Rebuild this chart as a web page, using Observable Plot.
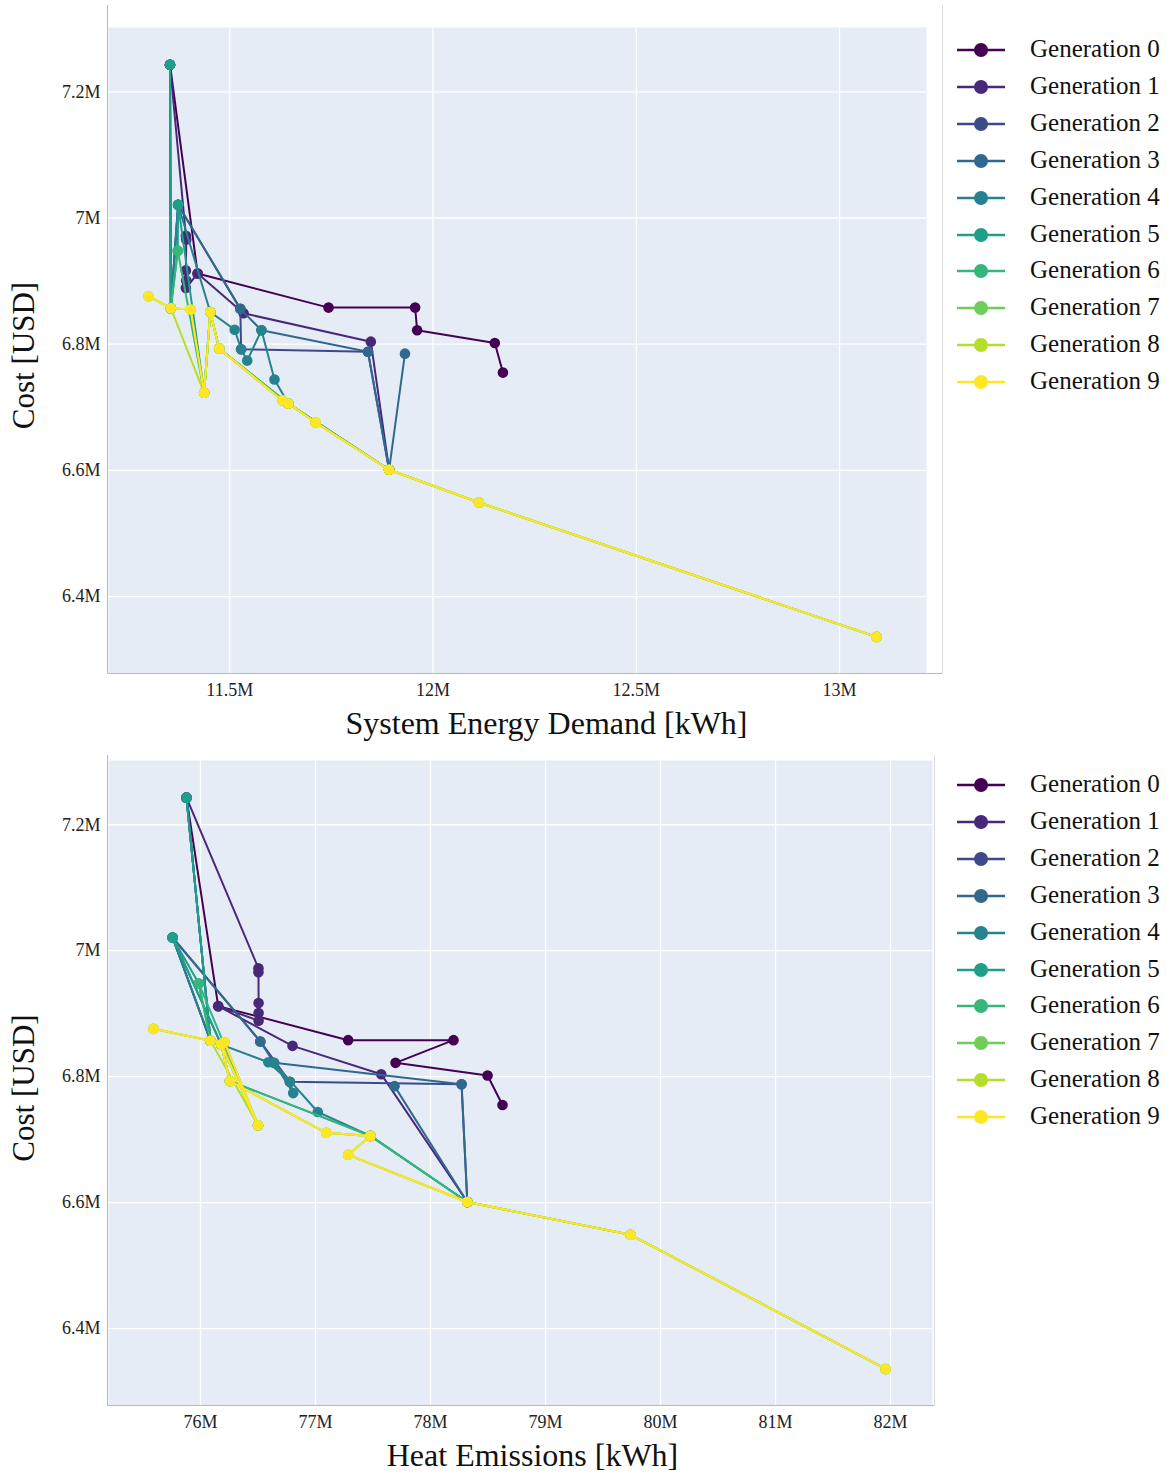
<!DOCTYPE html>
<html>
<head>
<meta charset="utf-8">
<script src="https://cdn.jsdelivr.net/npm/d3@7"></script>
<script src="https://cdn.jsdelivr.net/npm/@observablehq/plot@0.6"></script>
<style>
  body { margin: 0; background: #fff; font-family: "Liberation Serif", "DejaVu Serif", serif; color: #222; }
  .panel { position: relative; width: 1167px; }
  .panel svg.plot { display: block; }
  .legend { position: absolute; left: 957px; top: 0; }
  .item { position: absolute; left: 0; width: 210px; height: 0; }
  .item svg { position: absolute; left: 0; top: -10px; }
  .item span { position: absolute; left: 73px; top: -15px; font-size: 25px; line-height: 28px; white-space: nowrap; color: #111; }
</style>
</head>
<body>
<div id="chart"></div>
<script>
// ---- Data (values in millions) ----
const pointNames    = ["T","A","B","G1a","G1b","G1c","G1d","G1e","D0","Y1","Y2","Y3","Y4","Y5","Y6","Y7","Y8","Y9","Y10","Y11","Y12","G0a","G0b","G0c","G0d","G0e","G1g","G1f","G3a","G4a","G4b","G4c","G4d","G4e","H","K"];
const energyDemand  = [11.353,11.373,11.372,11.392,11.393,11.392,11.393,11.392,11.421,11.300,11.355,11.404,11.452,11.474,11.437,11.629,11.644,11.711,11.892,12.113,13.091,11.743,11.956,11.961,12.152,12.172,11.534,11.847,11.526,11.512,11.528,11.543,11.578,11.610,11.840,11.931];
const heatEmissions = [75.878,75.757,75.985,76.504,76.504,76.505,76.505,76.505,76.154,75.591,76.087,76.209,76.180,76.255,76.500,77.093,77.478,77.284,78.320,79.740,81.957,77.284,78.200,77.696,78.496,78.626,76.800,77.571,76.520,76.590,76.777,76.806,76.640,77.020,78.270,77.687];
const cost          = [7.243,7.021,6.948,6.972,6.966,6.917,6.901,6.889,6.912,6.876,6.857,6.855,6.851,6.793,6.723,6.711,6.706,6.676,6.601,6.549,6.336,6.858,6.858,6.822,6.802,6.755,6.849,6.804,6.856,6.823,6.792,6.774,6.822,6.744,6.788,6.785];

const generationNames = ["Generation 0","Generation 1","Generation 2","Generation 3","Generation 4","Generation 5","Generation 6","Generation 7","Generation 8","Generation 9"];
const generationMembers = [
  ["T","D0","G0a","G0b","G0c","G0d","G0e"],
  ["T","G1a","G1b","G1c","G1d","G1e","D0","G1g","G1f","Y10"],
  ["T","Y2","A","G3a","G4b","H","Y10"],
  ["T","Y2","A","G3a","G4d","H","Y10","K"],
  ["T","Y2","A","Y4","G4a","G4b","G4c","G4d","G4e","Y8","Y10"],
  ["T","Y2","B","A","Y6","Y4","Y5","Y8","Y10"],
  ["Y2","B","Y6","Y4","Y5","Y8","Y10","Y11","Y12"],
  ["Y1","Y2","Y3","Y6","Y4","Y5","Y7","Y8","Y9","Y10","Y11","Y12"],
  ["Y1","Y2","Y6","Y4","Y5","Y7","Y8","Y9","Y10","Y11","Y12"],
  ["Y1","Y2","Y3","Y6","Y4","Y5","Y7","Y8","Y9","Y10","Y11","Y12"]
];
const generationColors = ["#440154","#482878","#3e4989","#31688e","#26828e","#1f9e89","#35b779","#6ece58","#b5de2b","#fde725"];

const costTicks = [6.4, 6.6, 6.8, 7.0, 7.2];
const energyTicks = [11.5, 12, 12.5, 13];
const heatTicks = [76, 77, 78, 79, 80, 81, 82];

// ---- Build rows ----
const idx = new Map(pointNames.map((n, i) => [n, i]));
const rows = [];
generationMembers.forEach((members, g) => {
  members.forEach((n, k) => {
    const i = idx.get(n);
    rows.push({gen: generationNames[g], g, order: k, energy: energyDemand[i], heat: heatEmissions[i], cost: cost[i]});
  });
});

const fmtM = d => `${d}M`;
const FONT = '"Liberation Serif", "DejaVu Serif", serif';

function frameLines(topY) {
  return (index, scales, values, dims) => {
    const g = d3.create("svg:g");
    const x0 = dims.marginLeft - 0.5;
    const yb = dims.height - dims.marginBottom + 0.5;
    const xr = dims.width - 0.5;
    g.append("line").attr("x1", x0).attr("x2", x0).attr("y1", topY).attr("y2", yb).attr("stroke", "#b8b8b8");
    g.append("line").attr("x1", x0).attr("x2", xr).attr("y1", yb).attr("y2", yb).attr("stroke", "#b8b8b8");
    g.append("line").attr("x1", xr).attr("x2", xr).attr("y1", topY).attr("y2", yb).attr("stroke", "#dcdcdc");
    return g.node();
  };
}

function makePanel({xKey, xDomain, xTicks, xTitle, titleDx, width, height, marginTop, marginRight, marginBottom, frameTop}) {
  const marks = [
    Plot.frame({fill: "#E5ECF6", stroke: null}),
    Plot.gridX(xTicks, {stroke: "#fff", strokeOpacity: 1, strokeWidth: 1.3}),
    Plot.gridY(costTicks, {stroke: "#fff", strokeOpacity: 1, strokeWidth: 1.3}),
    Plot.axisX(xTicks, {tickSize: 0, tickPadding: 10, tickFormat: fmtM, fontSize: 18, label: null}),
    Plot.axisY(costTicks, {tickSize: 0, tickPadding: 8, tickFormat: fmtM, fontSize: 18, label: null}),
    frameLines(frameTop)
  ];
  generationNames.forEach((name, g) => {
    const data = rows.filter(r => r.g === g);
    marks.push(Plot.line(data, {x: xKey, y: "cost", stroke: generationColors[g], strokeWidth: 2}));
    marks.push(Plot.dot(data, {x: xKey, y: "cost", fill: generationColors[g], r: 5.3, stroke: "none"}));
  });
  marks.push(Plot.text([xTitle], {frameAnchor: "bottom", dx: titleDx, dy: 50, fontSize: 32, lineAnchor: "middle", textAnchor: "middle", fill: "#111"}));
  marks.push(Plot.text(["Cost [USD]"], {frameAnchor: "left", dx: -84, dy: 5, rotate: -90, fontSize: 31, lineAnchor: "middle", textAnchor: "middle", fill: "#111"}));
  const svg = Plot.plot({
    width, height, marginLeft: 108, marginRight, marginTop, marginBottom,
    style: {fontFamily: FONT, fontSize: "18px", color: "#222", background: "transparent"},
    x: {domain: xDomain, label: null},
    y: {domain: [6.278, 7.302], label: null},
    marks
  });
  svg.classList.add("plot");
  return svg;
}

function makeLegend(firstY) {
  const leg = document.createElement("div");
  leg.className = "legend";
  generationNames.forEach((name, g) => {
    const it = document.createElement("div");
    it.className = "item";
    it.style.top = (firstY + g * 36.9) + "px";
    const sw = d3.create("svg").attr("width", 50).attr("height", 20);
    sw.append("line").attr("x1", 0).attr("x2", 48).attr("y1", 10).attr("y2", 10).attr("stroke", generationColors[g]).attr("stroke-width", 2.4);
    sw.append("circle").attr("cx", 24).attr("cy", 10).attr("r", 7).attr("fill", generationColors[g]);
    it.appendChild(sw.node());
    const sp = document.createElement("span");
    sp.textContent = name;
    it.appendChild(sp);
    leg.appendChild(it);
  });
  return leg;
}

const chart = document.getElementById("chart");

const p1 = document.createElement("div");
p1.className = "panel";
p1.style.height = "745px";
p1.appendChild(makePanel({
  xKey: "energy", xDomain: [11.2017, 13.214], xTicks: energyTicks, xTitle: "System Energy Demand [kWh]", titleDx: 29,
  width: 943, height: 745, marginTop: 27, marginRight: 17, marginBottom: 72, frameTop: 5
}));
p1.appendChild(makeLegend(50));
chart.appendChild(p1);

const p2 = document.createElement("div");
p2.className = "panel";
p2.style.height = "732px";
p2.appendChild(makePanel({
  xKey: "heat", xDomain: [75.2, 82.365], xTicks: heatTicks, xTitle: "Heat Emissions [kWh]", titleDx: 12,
  width: 935, height: 732, marginTop: 15, marginRight: 3, marginBottom: 72, frameTop: 10
}));
p2.appendChild(makeLegend(40));
chart.appendChild(p2);
</script>
</body>
</html>
